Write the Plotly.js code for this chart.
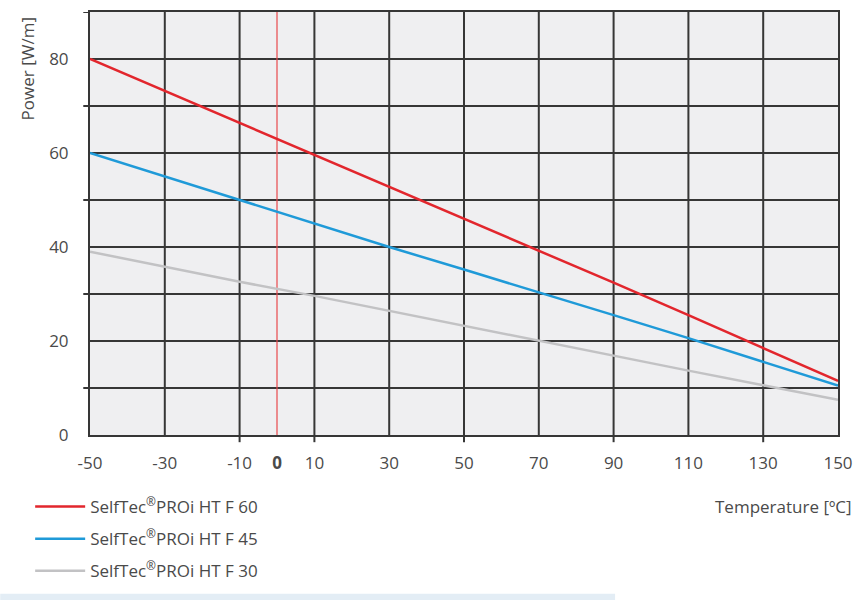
<!DOCTYPE html>
<html>
<head>
<meta charset="utf-8">
<script src="https://cdn.plot.ly/plotly-3.0.1.min.js"></script>
<style>
  body { margin: 0; background: #fff; }
  #plot { width: 860px; height: 600px; }
</style>
</head>
<body>
<div id="plot"></div>
<script>
// temperatures read at each vertical grid line
let temps = [-50, -30, -10, 10, 30, 50, 70, 90, 110, 130, 150];

let powerF60 = [80, 73.2, 66.5, 59.7, 52.9, 46, 39.2, 32.4, 25.5, 18.5, 11.5];
let powerF45 = [60, 55, 50, 45, 40, 35.2, 30.4, 25.5, 20.6, 15.6, 10.5];
let powerF30 = [39, 35.8, 32.6, 29.6, 26.4, 23.2, 20, 16.9, 13.7, 10.6, 7.5];

let names = [
    'SelfTec<sup>®</sup>PROi HT F 60',
    'SelfTec<sup>®</sup>PROi HT F 45',
    'SelfTec<sup>®</sup>PROi HT F 30'
];
let colours = ['#e2262d', '#1f9ad8', '#c2c2c4'];

let xTickVals = [-50, -30, -10, 0, 10, 30, 50, 70, 90, 110, 130, 150];
let xTickText = ['-50', '-30', '-10', '<b>0</b>', '10', '30', '50', '70', '90', '110', '130', '150'];
let xGridVals = [-30, -10, 10, 30, 50, 70, 90, 110, 130];
let xOutTicks = [-10, 10, 50, 90, 130];

let yTickVals = [0, 20, 40, 60, 80];
let yGridVals = [10, 20, 30, 40, 50, 60, 70, 80];
let yOutTicks = [10, 30, 50, 70, 90];

let gridColour = '#363636';
let textColour = '#4a4a4a';

let data = [];
[powerF60, powerF45, powerF30].forEach((vals, i) => {
    data.push({
        x: temps,
        y: vals,
        name: names[i],
        type: 'scatter',
        mode: 'lines',
        legendgroup: 'g' + i,
        line: {color: colours[i], width: 2.5}
    });
});

let shapes = [];

// vertical grid lines
xGridVals.forEach(v => {
    shapes.push({
        type: 'line', xref: 'x', yref: 'paper', x0: v, x1: v, y0: 0, y1: 1,
        line: {color: gridColour, width: 2}, layer: 'below'
    });
});
// horizontal grid lines
yGridVals.forEach(v => {
    shapes.push({
        type: 'line', xref: 'paper', yref: 'y', x0: 0, x1: 1, y0: v, y1: v,
        line: {color: gridColour, width: 2}, layer: 'below'
    });
});
// outside tick marks
xOutTicks.forEach(v => {
    shapes.push({
        type: 'line', xref: 'x', yref: 'paper', x0: v, x1: v, y0: 0, y1: -0.017,
        line: {color: gridColour, width: 2}
    });
});
yOutTicks.forEach(v => {
    shapes.push({
        type: 'line', xref: 'paper', yref: 'y', x0: 0, x1: -0.009, y0: v, y1: v,
        line: {color: gridColour, width: 2}
    });
});
// red line at 0 degrees
shapes.push({
    type: 'line', xref: 'x', yref: 'paper', x0: 0, x1: 0, y0: 0, y1: 1,
    line: {color: '#e8474c', width: 1.2}, layer: 'below'
});
// pale band at the bottom of the picture
shapes.push({
    type: 'rect', xref: 'paper', yref: 'paper', x0: -0.12, x1: 0.702, y0: -0.375, y1: -0.39,
    fillcolor: '#e3edf5', line: {width: 0}
});

var layout = {
    width: 860,
    height: 600,
    margin: {l: 90, r: 22, t: 12, b: 164},
    paper_bgcolor: '#ffffff',
    plot_bgcolor: '#efeff1',
    font: {family: 'Open Sans, sans-serif', color: textColour, size: 17},
    showlegend: true,
    legend: {
        x: -0.08,
        xanchor: 'left',
        y: -0.125,
        yanchor: 'top',
        orientation: 'v',
        tracegroupgap: 7,
        itemwidth: 50,
        font: {family: 'Open Sans, sans-serif', size: 17, color: textColour},
        bgcolor: 'rgba(0,0,0,0)'
    },
    xaxis: {
        range: [-50, 150],
        tickvals: xTickVals,
        ticktext: xTickText,
        showgrid: false,
        zeroline: false,
        showline: true,
        linecolor: gridColour,
        linewidth: 2,
        mirror: true,
        ticks: '',
        ticklabelstandoff: 12,
        tickfont: {size: 17, color: textColour}
    },
    yaxis: {
        range: [0, 90],
        tickvals: yTickVals,
        showgrid: false,
        zeroline: false,
        showline: true,
        linecolor: gridColour,
        linewidth: 2,
        mirror: true,
        ticks: '',
        ticklabelstandoff: 16,
        tickfont: {size: 17, color: textColour}
    },
    shapes: shapes,
    annotations: [
        {
            text: 'Power [W/m]',
            xref: 'paper', yref: 'paper',
            x: -0.083, y: 0.993,
            xanchor: 'center', yanchor: 'top',
            textangle: -90,
            showarrow: false,
            font: {size: 17, color: textColour}
        },
        {
            text: 'Temperature [ºC]',
            xref: 'paper', yref: 'paper',
            x: 1.022, y: -0.137,
            xanchor: 'right', yanchor: 'top',
            showarrow: false,
            font: {size: 17, color: textColour}
        }
    ]
};

Plotly.newPlot('plot', data, layout, {displayModeBar: false});
</script>
</body>
</html>
